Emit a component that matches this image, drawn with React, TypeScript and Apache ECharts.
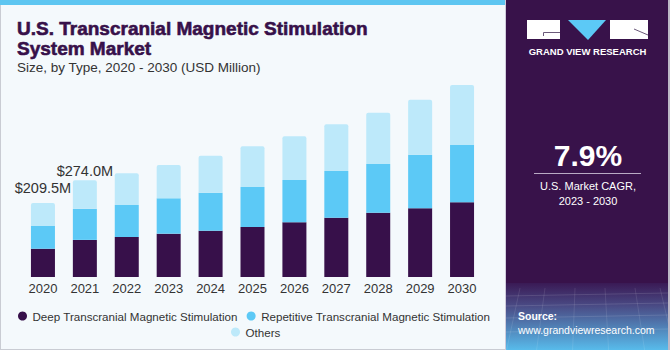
import React, { useEffect, useRef } from "react";
import * as echarts from "echarts";

const years = ["2020", "2021", "2022", "2023", "2024", "2025", "2026", "2027", "2028", "2029", "2030"];
const deepTMS = [80.0, 105.0, 113.2, 122.6, 131.0, 141.6, 154.8, 167.9, 182.0, 194.5, 211.5];
const repetitiveTMS = [64.2, 88.0, 90.6, 100.2, 107.6, 113.2, 119.8, 132.2, 137.9, 151.7, 162.2];
const others = [65.3, 81.0, 89.7, 94.3, 104.7, 115.2, 123.7, 132.2, 145.2, 155.7, 169.9];
const labelledYears = ["2020", "2021"];
const seriesNames = [
  "Deep Transcranial Magnetic Stimulation",
  "Repetitive Transcranial Magnetic Stimulation",
  "Others",
];
const cagrText = "7.9%";
const cagrCaption = ["U.S. Market CAGR,", "2023 - 2030"];

const FONT = "'Liberation Sans', Arial, sans-serif";
const DARK = "#37104a";
const MID = "#5cc9f6";
const LIGHT = "#bde9fa";

function txt(
  text: string,
  x: number,
  y: number,
  size: number,
  color: string,
  weight: string | number = "normal",
  align = "left",
  strokeW = 0
) {
  const style: any = {
    text,
    fill: color,
    fontSize: size,
    fontWeight: weight,
    fontFamily: FONT,
    align,
    textAlign: align,
    verticalAlign: "middle",
    textVerticalAlign: "middle",
  };
  if (strokeW > 0) {
    style.stroke = color;
    style.lineWidth = strokeW;
  }
  return { type: "text", x, y, silent: true, style };
}

export default function App() {
  const ref = useRef<HTMLDivElement>(null);
  useEffect(() => {
    document.body.style.margin = "0";
    if (!ref.current) return;
    const chart = echarts.init(ref.current, undefined, { renderer: "svg" });
    const totals = years.map((_, i) => deepTMS[i] + repetitiveTMS[i] + others[i]);
    const labelDistance = [7, 1.5];
    const option: any = {
      animation: false,
      backgroundColor: "#f4f9fc",
      grid: { left: 22, right: 187, top: 65, bottom: 73 },
      xAxis: {
        type: "category",
        data: years,
        axisLine: { show: false },
        axisTick: { show: false },
        axisLabel: { color: "#333", fontSize: 13, fontFamily: FONT, margin: 5 },
      },
      yAxis: { type: "value", min: 0, max: 600, show: false, splitLine: { show: false } },
      legend: [
        {
          data: [seriesNames[0], seriesNames[1]],
          left: 13,
          top: 305,
          icon: "circle",
          itemWidth: 10,
          itemHeight: 9,
          itemGap: 9,
          textStyle: { color: "#333", fontSize: 11.6, fontFamily: FONT },
        },
        {
          data: [seriesNames[2]],
          left: 226,
          top: 321,
          icon: "circle",
          itemWidth: 10,
          itemHeight: 9,
          textStyle: { color: "#333", fontSize: 11.6, fontFamily: FONT },
        },
      ],
      series: [
        {
          name: seriesNames[0],
          type: "bar",
          stack: "total",
          barWidth: 24,
          data: deepTMS,
          itemStyle: { color: DARK },
        },
        {
          name: seriesNames[1],
          type: "bar",
          stack: "total",
          barWidth: 24,
          data: repetitiveTMS,
          itemStyle: { color: MID },
        },
        {
          name: seriesNames[2],
          type: "bar",
          stack: "total",
          barWidth: 24,
          itemStyle: { color: LIGHT, borderRadius: [2, 2, 0, 0] },
          label: {
            show: false,
            position: "top",
            color: "#333",
            fontSize: 14.5,
            fontFamily: FONT,
            formatter: (p: any) => "$" + totals[p.dataIndex].toFixed(1) + "M",
          },
          data: others.map((v, i) =>
            labelledYears.includes(years[i])
              ? { value: v, label: { show: true, distance: labelDistance[i] } }
              : v
          ),
        },
      ],
      graphic: [
        // top stripe and borders
        { type: "rect", silent: true, shape: { x: 0, y: 0, width: 506, height: 5 }, style: { fill: "#5ec6f1" } },
        { type: "rect", silent: true, shape: { x: 0, y: 5, width: 1, height: 345 }, style: { fill: "#c9ccd3" } },
        { type: "rect", silent: true, shape: { x: 0, y: 349, width: 506, height: 1 }, style: { fill: "#c9ccd3" } },
        { type: "rect", silent: true, shape: { x: 505, y: 0, width: 1, height: 350 }, style: { fill: "#cfcbdb" } },
        // right panel
        { type: "rect", silent: true, shape: { x: 506, y: 0, width: 164, height: 350 }, style: { fill: "#38124a" } },
        {
          type: "rect",
          silent: true,
          shape: { x: 506, y: 283, width: 162, height: 67 },
          style: {
            fill: new echarts.graphic.LinearGradient(0, 0, 0, 1, [
              { offset: 0, color: "#3a1a55" },
              { offset: 0.35, color: "#4a4c86" },
              { offset: 1, color: "#58bbeb" },
            ]),
          },
        },
        ...[296, 306, 318, 332].map((y) => ({
          type: "line",
          silent: true,
          shape: { x1: 506, y1: y, x2: 668, y2: y - 3 },
          style: { stroke: "rgba(255,255,255,0.12)", lineWidth: 1 },
        })),
        ...[520, 545, 575, 605, 635, 660].map((x) => ({
          type: "line",
          silent: true,
          shape: { x1: x, y1: 288, x2: x + (x - 587) * 0.2, y2: 350 },
          style: { stroke: "rgba(255,255,255,0.1)", lineWidth: 1 },
        })),
        { type: "rect", silent: true, shape: { x: 668, y: 0, width: 2, height: 350 }, style: { fill: "#bdb8c6" } },
        // logo
        { type: "rect", silent: true, shape: { x: 527, y: 20, width: 33, height: 19 }, style: { fill: "#ffffff" } },
        {
          type: "polyline",
          silent: true,
          shape: { points: [[560, 32.5], [543.5, 32.5], [543.5, 36]] },
          style: { stroke: "#6b5a7a", lineWidth: 1, fill: null },
        },
        {
          type: "polygon",
          silent: true,
          shape: { points: [[568, 20], [606, 20], [588, 40]] },
          style: { fill: "#5cc9f6" },
        },
        { type: "rect", silent: true, shape: { x: 610, y: 20, width: 38, height: 19 }, style: { fill: "#ffffff" } },
        {
          type: "polyline",
          silent: true,
          shape: { points: [[634, 29], [648, 35]] },
          style: { stroke: "#6b5a7a", lineWidth: 1, fill: null },
        },
        txt("GRAND VIEW RESEARCH", 587.5, 51, 9.5, "#ffffff", "bold", "center"),
        // CAGR
        txt(cagrText, 588, 155, 30, "#ffffff", "bold", "center"),
        { type: "line", silent: true, shape: { x1: 534, y1: 173.5, x2: 641, y2: 173.5 }, style: { stroke: "#b9aac4", lineWidth: 1 } },
        txt(cagrCaption[0], 588, 186, 11, "#ffffff", "normal", "center"),
        txt(cagrCaption[1], 588, 200.5, 11, "#ffffff", "normal", "center"),
        // source
        txt("Source:", 518, 315.5, 10.5, "#ffffff", "bold"),
        txt("www.grandviewresearch.com", 518, 329.5, 10.5, "#ffffff"),
        // titles
        txt("U.S. Transcranial Magnetic Stimulation", 17, 28.5, 19, DARK, 900, "left", 0.6),
        txt("System Market", 17, 48.5, 19, DARK, 900, "left", 0.6),
        txt("Size, by Type, 2020 - 2030 (USD Million)", 17, 67, 13.5, "#333333"),
      ],
    };
    chart.setOption(option);
    return () => chart.dispose();
  }, []);
  return <div ref={ref} style={{ width: 670, height: 350, position: "absolute", left: 0, top: 0 }} />;
}
